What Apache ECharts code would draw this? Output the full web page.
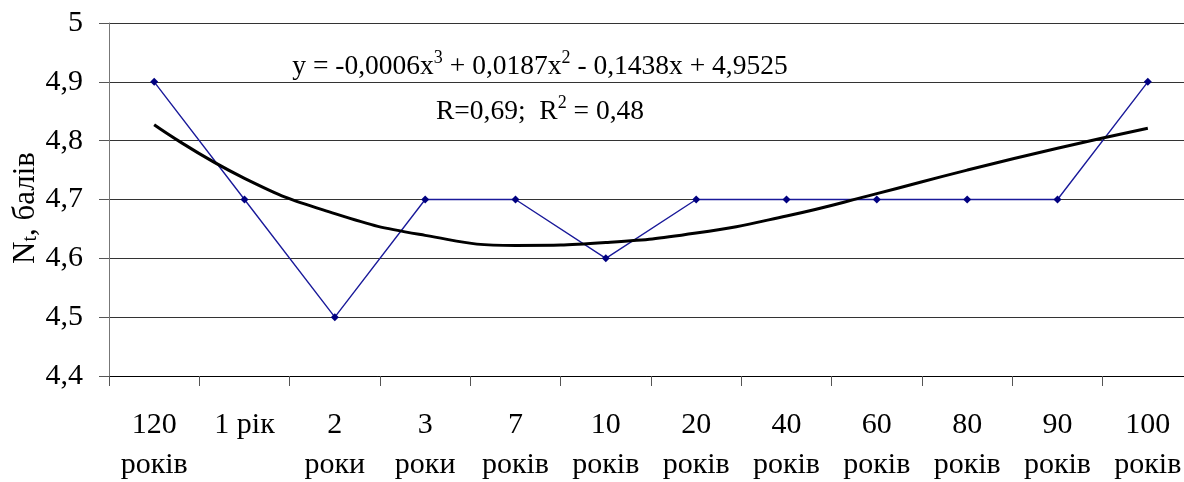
<!DOCTYPE html>
<html>
<head>
<meta charset="utf-8">
<script src="https://cdn.jsdelivr.net/npm/echarts@6/dist/echarts.min.js"></script>
<style>
html,body{margin:0;padding:0;background:#fff;}
#c{width:1184px;height:482px;}
</style>
</head>
<body>
<div id="c"></div>
<script>
var categories = ['120\nроків', '1 рік', '2\nроки', '3\nроки', '7\nроків', '10\nроків', '20\nроків', '40\nроків', '60\nроків', '80\nроків', '90\nроків', '100\nроків'];
var values = [4.9, 4.7, 4.5, 4.7, 4.7, 4.6, 4.7, 4.7, 4.7, 4.7, 4.7, 4.9];
var trendValues = [4.827, 4.736, 4.676, 4.639, 4.622, 4.627, 4.643, 4.672, 4.710, 4.750, 4.787, 4.821];
var yTicks = {min: 4.4, max: 5, interval: 0.1};
var yName = ['N', 't', ', балів'];
var equationParts = ['y = -0,0006x', '3', ' + 0,0187x', '2', ' - 0,1438x + 4,9525'];
var rParts = ['R=0,69;  R', '2', ' = 0,48'];

var FONT = '"Liberation Serif", "Times New Roman", serif';
var chart = echarts.init(document.getElementById('c'), null, {renderer: 'canvas'});

function richLine(parts) {
  var s = '';
  parts.forEach(function (p, i) {
    s += (i % 2 === 0 ? '{n|' : '{s|') + p + '}';
  });
  return s;
}
var richSup = {
  n: {fontSize: 27.5, fontFamily: FONT, color: '#000', lineHeight: 32, verticalAlign: 'bottom'},
  s: {fontSize: 18, fontFamily: FONT, color: '#000', lineHeight: 18, verticalAlign: 'top'}
};
var richSub = {
  a: {fontFamily: FONT, fontSize: 31, color: '#000', lineHeight: 34, verticalAlign: 'bottom'},
  b: {fontFamily: FONT, fontSize: 20, color: '#000', lineHeight: 20, verticalAlign: 'bottom'}
};

chart.setOption({
  animation: false,
  backgroundColor: '#fff',
  grid: {left: 109, right: -9, top: 23, bottom: 106, containLabel: false, outerBoundsMode: 'none'},
  xAxis: {
    type: 'category',
    data: categories,
    boundaryGap: true,
    axisLine: {show: true, lineStyle: {color: '#000', width: 1}},
    axisTick: {show: true, interval: 0, length: 10, lineStyle: {color: '#555'}},
    axisLabel: {interval: 0, margin: 29, fontFamily: FONT, fontSize: 30, color: '#000', lineHeight: 40, hideOverlap: false},
    splitLine: {show: false}
  },
  yAxis: {
    type: 'value',
    min: yTicks.min,
    max: yTicks.max,
    interval: yTicks.interval,
    axisLine: {show: true, lineStyle: {color: '#777', width: 1}},
    axisTick: {show: true, length: 10, lineStyle: {color: '#555'}},
    axisLabel: {
      margin: 26, fontFamily: FONT, fontSize: 30, color: '#000',
      formatter: function (v) { return (Math.round(v * 10) / 10).toString().replace('.', ','); }
    },
    splitLine: {show: true, lineStyle: {color: '#333', width: 1}}
  },
  series: [
    {
      type: 'line',
      data: values,
      symbol: 'diamond',
      symbolSize: 8,
      itemStyle: {color: '#000080'},
      lineStyle: {color: '#1a1a9a', width: 1.4},
      z: 3
    },
    {
      type: 'line',
      data: trendValues,
      smooth: true,
      symbol: 'none',
      lineStyle: {color: '#000', width: 3},
      z: 4
    }
  ],
  graphic: [
    {
      type: 'text',
      x: 540,
      y: 65,
      style: {text: richLine(equationParts), rich: richSup, align: 'center', verticalAlign: 'middle'}
    },
    {
      type: 'text',
      x: 540,
      y: 110,
      style: {text: richLine(rParts), rich: richSup, align: 'center', verticalAlign: 'middle'}
    },
    {
      type: 'text',
      x: 24,
      y: 208,
      rotation: Math.PI / 2,
      style: {text: '{a|' + yName[0] + '}{b|' + yName[1] + '}{a|' + yName[2] + '}', rich: richSub, align: 'center', verticalAlign: 'middle'}
    }
  ]
});
</script>
</body>
</html>
